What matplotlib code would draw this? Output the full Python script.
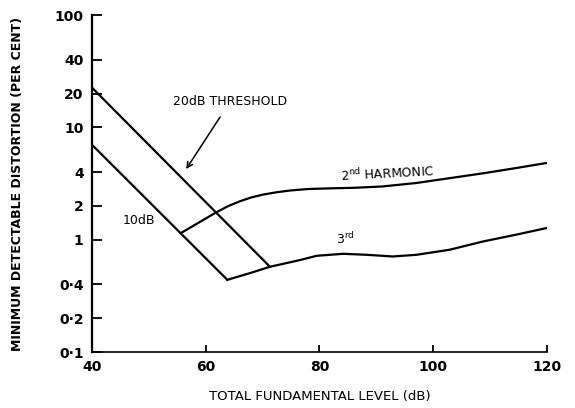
import matplotlib.pyplot as plt

# threshold lines (dB level, per cent)
x_20db = [40, 71.3]
y_20db = [22.6, 0.575]
x_10db = [40, 63.8]
y_10db = [7.0, 0.44]

# harmonic curves
x_2nd = [55.8, 61.9, 64.0, 66.0, 68.0, 70.0, 72.5, 75.0, 78, 82, 86, 91, 97, 103, 109, 114.6, 119.9]
y_2nd = [1.16, 1.76, 2.0, 2.2, 2.38, 2.52, 2.65, 2.75, 2.83, 2.87, 2.9, 2.98, 3.2, 3.54, 3.92, 4.35, 4.82]
x_3rd = [63.8, 67.8, 71.3, 76.6, 79.5, 84.2, 88.3, 92.9, 97.1, 102.9, 108.8, 114.6, 119.9]
y_3rd = [0.44, 0.505, 0.575, 0.66, 0.72, 0.75, 0.735, 0.71, 0.735, 0.815, 0.966, 1.11, 1.27]

xticks = [40, 60, 80, 100, 120]
yticks = [0.1, 0.2, 0.4, 1, 2, 4, 10, 20, 40, 100]
ytick_labels = ["0·1", "0·2", "0·4", "1", "2", "4", "10", "20", "40", "100"]

fig = plt.figure(figsize=(5.75, 4.08), dpi=100)
ax = fig.add_axes([0.16, 0.137, 0.791, 0.826])

lw = 1.6
ax.plot(x_20db, y_20db, color="black", lw=lw)
ax.plot(x_10db, y_10db, color="black", lw=lw)
ax.plot(x_2nd, y_2nd, color="black", lw=lw)
ax.plot(x_3rd, y_3rd, color="black", lw=lw)

ax.set_yscale("log")
ax.set_xlim(40, 120)
ax.set_ylim(0.1, 100)
ax.set_xticks(xticks)
ax.set_xticklabels([str(t) for t in xticks])
ax.set_yticks(yticks)
ax.set_yticklabels(ytick_labels)
ax.minorticks_off()

ax.spines["top"].set_visible(False)
ax.spines["right"].set_visible(False)
ax.spines["left"].set_linewidth(1.6)
ax.spines["bottom"].set_linewidth(1.2)
ax.tick_params(axis="y", direction="in", length=7, width=1.3, labelsize=10, pad=6)
ax.tick_params(axis="x", direction="in", length=5, width=1.3, labelsize=10, pad=6)
for lab in ax.get_xticklabels() + ax.get_yticklabels():
    lab.set_fontweight("bold")

ax.set_xlabel("TOTAL FUNDAMENTAL LEVEL (dB)", fontsize=9.5, labelpad=11)
ax.set_ylabel("MINIMUM DETECTABLE DISTORTION (PER CENT)", fontsize=9,
              fontweight="bold", labelpad=22)

ax.text(64.3, 16.9, "20dB THRESHOLD", fontsize=9, ha="center", va="center")
ax.annotate("", xy=(56.3, 4.06), xytext=(62.8, 13.0),
            arrowprops=dict(arrowstyle="->", color="black", lw=1.1))
ax.text(48.3, 1.48, "10dB", fontsize=9, ha="center", va="center")
ax.text(92.0, 3.85, r"2$^{\mathregular{nd}}$ HARMONIC", fontsize=9,
        ha="center", va="center", rotation=3)
ax.text(84.6, 1.02, r"3$^{\mathregular{rd}}$", fontsize=9, ha="center", va="center")

fig.savefig("out.png", dpi=100)
